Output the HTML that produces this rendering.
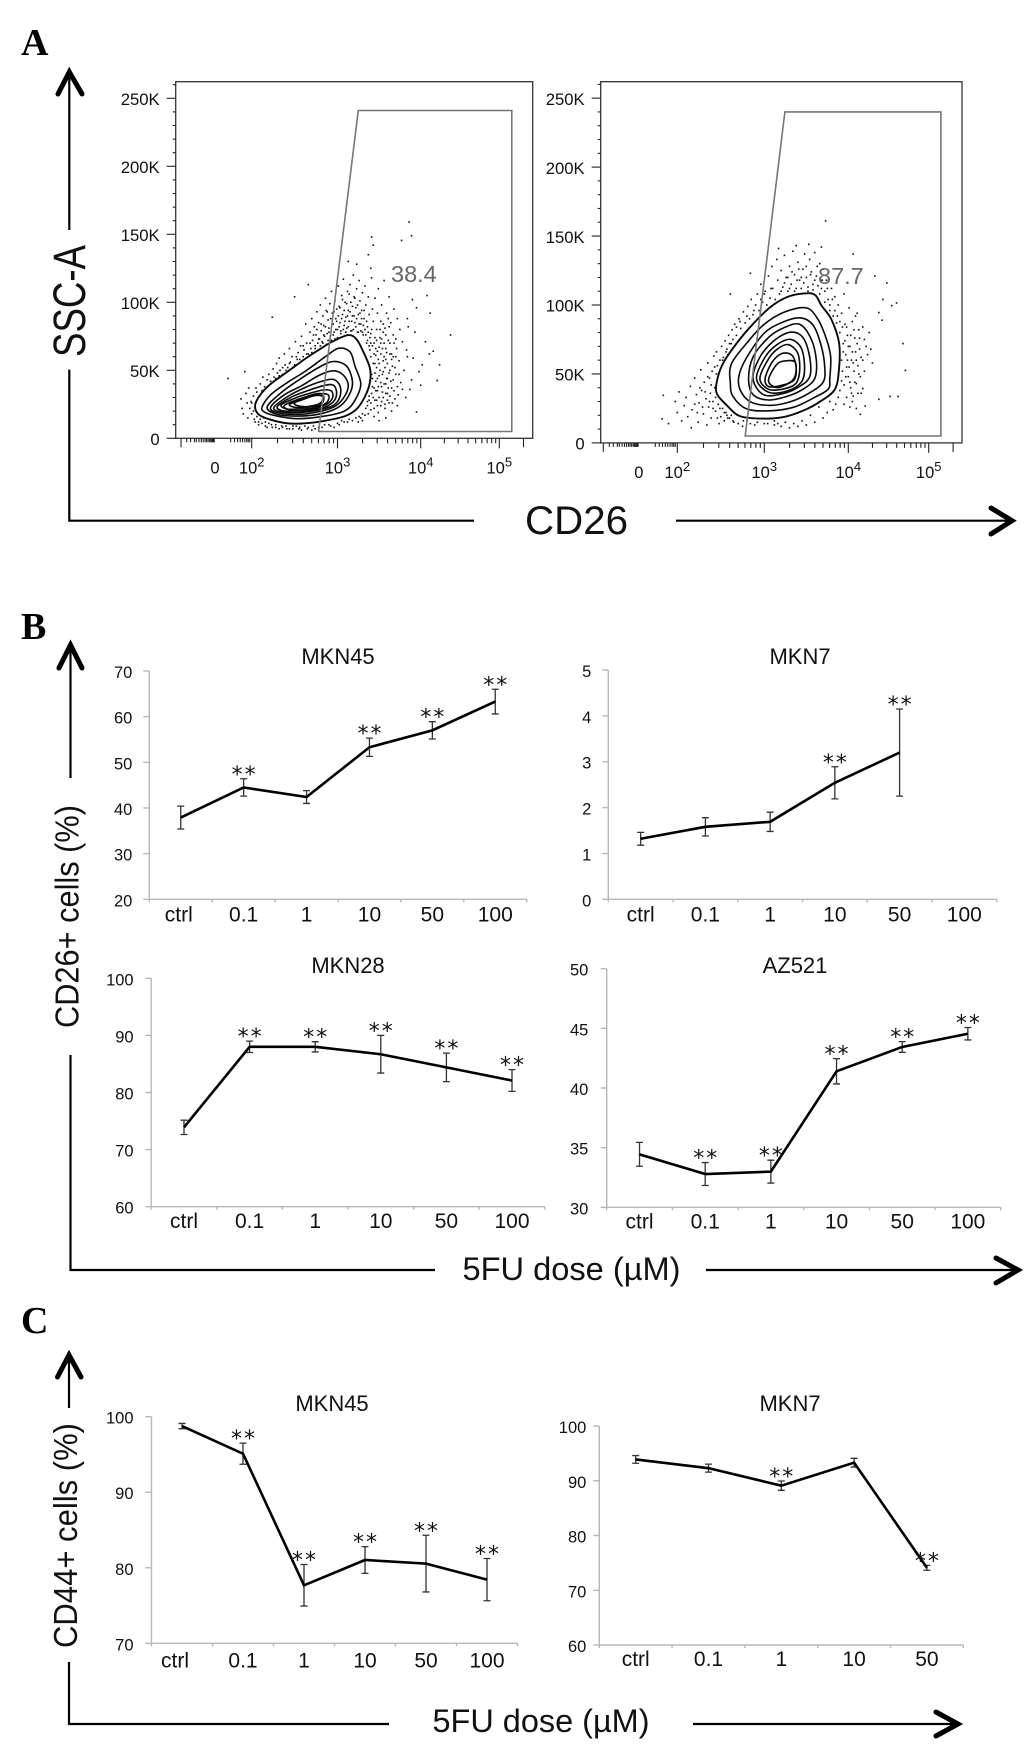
<!DOCTYPE html>
<html lang="en">
<head>
<meta charset="utf-8">
<title>CD26 and CD44 flow cytometry after 5FU dose</title>
<style>
html,body{margin:0;padding:0;background:#fff;width:1033px;height:1748px;overflow:hidden}
svg{display:block}
text{font-family:"Liberation Sans",sans-serif;fill:#111}
.serif{font-family:"Liberation Serif",serif;font-weight:bold;fill:#000}
</style>
</head>
<body>
<svg id="figure" xmlns="http://www.w3.org/2000/svg" width="1033" height="1748" viewBox="0 0 1033 1748">
  <rect width="1033" height="1748" fill="#fff"/>
  <text class="serif" x="21" y="55" font-size="38">A</text>
  <text class="serif" x="21" y="639" font-size="38">B</text>
  <text class="serif" x="21" y="1333" font-size="38">C</text>

  <g fill="none" stroke="#000" stroke-width="2.2">
    <path d="M69.3 72V230M69.3 369.6V520.7H474M676 520.7H1011"/>
    <path d="M58 94L69.3 72L82 94M991 508L1012 520.7L991 534" stroke-width="5" stroke-linecap="round" stroke-linejoin="miter"/>
  </g>
  <g fill="none" stroke="#000" stroke-width="2.2">
    <path d="M70.5 645V778M70.5 1055V1270H435M706 1270H1018"/>
    <path d="M59 668L70.5 645L82 668M996 1258L1018 1270L996 1283" stroke-width="5" stroke-linecap="round" stroke-linejoin="miter"/>
  </g>
  <g fill="none" stroke="#000" stroke-width="2.2">
    <path d="M69 1355V1408M69 1662V1724H389M693 1724H957"/>
    <path d="M57.5 1377L69 1355L81 1377M936 1712L958 1724L936 1736" stroke-width="5" stroke-linecap="round" stroke-linejoin="miter"/>
  </g>

  <text x="0" y="0" transform="translate(85 357) rotate(-90)" font-size="45" textLength="112" lengthAdjust="spacingAndGlyphs">SSC-A</text>
  <text x="525" y="534" font-size="40" textLength="103" lengthAdjust="spacingAndGlyphs">CD26</text>
  <text x="0" y="0" transform="translate(78.4 1028) rotate(-90)" font-size="33" textLength="223" lengthAdjust="spacingAndGlyphs">CD26+ cells (%)</text>
  <text x="462.5" y="1280" font-size="32" textLength="218" lengthAdjust="spacingAndGlyphs">5FU dose (µM)</text>
  <text x="0" y="0" transform="translate(77 1648) rotate(-90)" font-size="33" textLength="225" lengthAdjust="spacingAndGlyphs">CD44+ cells (%)</text>
  <text x="432.5" y="1732" font-size="32" textLength="217" lengthAdjust="spacingAndGlyphs">5FU dose (µM)</text>
</svg>
<script>
/* ---------- line chart data ---------- */
const doseLabels = ['ctrl','0.1','1','10','50','100'];
const doseLabelsShort = ['ctrl','0.1','1','10','50'];

const mkn45bTicks = [20,30,40,50,60,70];
const mkn45bValues = [37.9,44.5,42.4,53.3,57,63.3];
const mkn45bErrors = [2.5,1.9,1.4,2,1.9,2.7];
const mkn45bStars = [0,1,0,1,1,1];

const mkn7bTicks = [0,1,2,3,4,5];
const mkn7bValues = [1.32,1.58,1.69,2.54,3.2];
const mkn7bErrors = [0.14,0.2,0.21,0.35,0.95];
const mkn7bStars = [0,0,0,1,1];

const mkn28Ticks = [60,70,80,90,100];
const mkn28Values = [73.9,88,88,86.7,84.4,82.1];
const mkn28Errors = [1.25,1,0.9,3.3,2.5,1.9];
const mkn28Stars = [0,1,1,1,1,1];

const az521Ticks = [30,35,40,45,50];
const az521Values = [34.44,32.79,32.99,41.4,43.44,44.55];
const az521Errors = [1,0.96,0.96,1.06,0.45,0.52];
const az521Stars = [0,1,1,1,1,1];

const mkn45cTicks = [70,80,90,100];
const mkn45cValues = [98.76,95.1,77.68,81.03,80.55,78.43];
const mkn45cErrors = [0.35,1.4,2.75,1.77,3.75,2.8];
const mkn45cStars = [0,1,1,1,1,1];

const mkn7cTicks = [60,70,80,90,100];
const mkn7cValues = [93.9,92.3,89.1,93.3,74.1];
const mkn7cErrors = [0.7,0.73,0.85,0.8,0.45];
const mkn7cStars = [0,0,1,0,1];

/* ---------- flow cytometry data: [decade position, SSC in K] pairs ---------- */
const sscTicks = [0,50,100,150,200,250];
const sscMinor = [10,20,30,40,60,70,80,90,110,120,130,140,160,170,180,190,210,220,230,240,260];
const cd26Decades = [2,3,4,5];
const cd26LowTicks = [0.3,0.4,0.5,0.55,0.62,0.68,0.73,0.78,0.82,0.86,0.9,0.93,0.96,0.98,1,1.01,1.02,1.45,1.55,1.63,1.7,1.76,1.82,1.87,1.91,1.95];
const cd26DecadeMinor = [0.301,0.477,0.602,0.699,0.778,0.845,0.903,0.954];
const cd26LongTicks = [0.15,5.3];

const dotsLeft = [
1.38,44,1.82,49,2.24,89,2.50,104,2.66,113,3.23,128,3.41,148,3.43,142,3.77,145.5,3.86,159,3.89,149,3.37,135,3.40,125,3.13,130,
4.38,76,4.08,105,4.12,92,3.90,102,3.95,96,4.06,71,4.16,64,4.11,62,4.24,54,4.21,42.5,4.00,39,3.95,19.4,3.89,43,3.84,60,3.91,59,4.02,54,3.98,49,3.93,78,3.84,88,3.72,24,3.78,36,
1.72,29,1.75,22,1.78,18,1.85,33,1.88,26,1.9,15,1.92,37,1.95,22,1.98,27,2.0,18,2.02,31,2.03,14,2.05,37,2.06,34,2.08,12,2.1,40,2.12,35,2.13,45,2.15,38,2.16,9,2.18,43,2.2,47,2.22,42,2.23,10,2.25,51,2.26,45,2.28,8,2.29,55,2.3,48,2.32,59,2.33,50,2.35,9,2.36,47,2.38,62,2.39,54,2.41,7,2.42,52,2.44,66,2.45,56,2.47,60,2.48,9,2.5,54,2.51,71,2.53,58,2.54,63,2.56,8,2.57,68,2.58,75,2.6,60,2.61,65,2.63,84,2.64,70,2.65,7,2.66,62,2.68,78,2.69,66,2.7,88,2.71,72,2.72,9,2.73,82,2.74,68,2.75,76,2.76,93,2.77,70,2.78,85,2.79,73,2.8,98,2.81,79,2.82,71,2.83,90,2.84,83,2.85,75,2.86,103,2.87,94,2.88,77,2.89,87,2.9,81,2.91,99,2.92,76,2.93,108,2.94,92,2.95,84,2.96,78,2.97,101,2.98,88,2.99,95,3.0,80,3.01,112,3.02,97,3.03,85,3.04,79,3.05,105,3.06,91,3.07,117,3.08,83,3.09,100,3.1,89,3.11,81,3.12,108,3.13,94,3.14,86,3.15,113,3.16,100,3.17,79,3.18,90,3.19,120,3.2,104,3.21,85,3.22,96,3.23,110,3.24,78,3.25,91,3.26,116,3.27,101,3.28,84,3.29,94,3.3,107,3.31,76,3.32,88,3.33,112,3.34,98,3.35,70,3.36,82,3.37,104,3.38,91,3.39,65,3.4,77,3.41,118,3.42,95,3.43,86,3.44,70,3.45,103,3.46,61,3.47,80,3.48,92,3.49,110,3.5,55,3.51,74,3.52,86,3.53,98,3.54,66,3.55,49,3.56,116,3.57,81,3.58,58,3.59,92,3.6,44,3.61,72,3.62,104,3.63,62,3.64,85,3.65,37,3.66,53,3.67,76,3.68,95,3.7,47,3.71,66,3.72,88,3.73,32,3.74,57,3.75,80,3.76,41,3.78,71,3.8,50,3.82,30,3.83,65,3.85,82,3.87,36,
3.41,47,3.42,38,3.43,30,3.44,22,3.45,55,3.46,42,3.47,28,3.48,35,3.49,19,3.5,46,3.52,24,3.53,38,3.55,30,3.56,60,3.57,22,3.58,40,3.6,33,3.62,26,3.63,50,3.65,20,3.67,43,3.69,29,3.72,38,3.74,47,3.36,24,3.37,18,3.38,28,3.33,17,3.3,13,3.28,15,3.25,12,3.4,26,3.44,16,3.5,13,3.58,15,3.4,60,3.42,68,3.45,74,3.48,64,3.52,70,3.55,78,3.58,66,3.62,82,3.65,58,3.68,70,3.7,60,
2.55,7,2.62,9,2.7,6,2.78,8,2.85,10,2.92,9,3.0,11,3.05,13,3.12,12,
3.41,33,3.42,44,3.43,55,3.44,37,3.44,62,3.45,28,3.45,48,3.46,66,3.46,35,3.47,52,3.47,72,3.48,44,3.48,24,3.49,58,3.49,38,3.5,67,3.5,30,3.51,50,3.51,80,3.52,41,3.52,62,3.53,27,3.53,73,3.54,47,3.54,34,3.55,57,3.55,84,3.56,40,3.56,70,3.57,25,3.57,52,3.58,76,3.58,33,3.59,44,3.59,63,3.6,28,3.6,55,3.61,37,3.61,88,3.62,48,3.63,70,3.63,31,3.64,42,3.65,62,3.66,26,3.67,60,3.68,35,3.69,52,3.7,73,
3.4,70,3.41,80,3.39,74,3.38,68,3.37,78,3.36,72,3.35,86,3.34,76,3.33,80,3.32,94,3.31,83,3.3,78,3.29,88,3.28,79,3.27,92,3.26,84,3.25,78,3.24,98,3.23,88,3.22,82,3.21,103,3.2,90,3.19,80,3.18,97,3.17,86,3.16,79,3.15,93,3.14,106,3.13,82,3.12,90,3.11,99,3.1,78,3.09,86,3.08,94,3.07,80,3.06,102,3.05,88,3.04,77,3.03,96,3.02,82,3.01,90,3.0,74,2.99,86,2.98,80,2.97,73,2.96,93,2.95,76,2.94,84,2.93,72,2.92,88,2.91,71,2.9,78,2.89,72,2.88,93,2.87,69,2.86,82,2.85,67,2.84,76,2.83,70,2.82,65,2.81,84,2.8,68,2.79,64,2.78,73,2.77,62,2.76,80,2.75,60,2.74,66,2.73,58,2.72,76,2.71,57,2.7,63,2.69,55,2.68,70,2.67,54,2.66,58,2.65,52,2.64,62,2.63,50,2.62,56,2.61,51,2.6,68,2.59,48,2.58,52,2.57,46,2.56,58,2.55,45,2.54,50,2.53,43,2.52,60,2.51,44,2.5,48,2.49,42,2.48,52,2.47,41,2.46,46,2.45,39,2.44,55,2.43,40,2.42,44,2.41,38,2.4,50,2.39,37,2.38,42,2.37,36,2.36,52,2.35,35,2.34,40,2.33,34,2.32,46,2.31,33,2.3,38,2.29,32,2.28,44,2.27,31,2.26,36,2.25,30,2.24,41,2.23,29,2.22,35,2.21,28,2.2,38,2.19,27,2.18,33,2.17,26,2.16,36,2.15,25,2.14,30,2.13,24,2.12,33,2.11,22,2.1,26,
2.0,26,2.02,20,2.04,12,2.06,16,2.08,10,2.1,14,2.12,11,2.14,15,2.16,12,2.18,8,2.2,11,2.24,8,2.28,10,2.32,7,2.36,8,2.4,9,2.44,7,2.48,7,2.52,9,2.58,6,2.66,8,2.74,7,2.82,8,2.9,10,2.96,8,3.02,10,3.08,12,3.14,14,3.18,13,3.22,15,3.26,16,3.3,18,3.34,22,3.36,27,3.38,31,3.4,21
];
const dotsRight = [
1.65,34.5,1.62,17.4,1.78,14,2.16,11,3.73,161,4.06,137,3.38,143,3.53,144,3.68,142,3.17,141,2.84,123,2.61,108,4.33,121,4.48,116,4.43,104,4.6,101.5,4.54,99.5,4.42,89,4.38,94.5,4.68,72,4.71,52.6,4.62,33.7,4.52,33.7,4.38,31.6,4.21,26.7,4.15,20.7,4.18,39.4,
1.95,30,2.0,22,2.02,37,2.05,16,2.08,27,2.1,33,2.12,19,2.15,41,2.17,24,2.2,47,2.22,35,2.24,15,2.25,29,2.27,53,2.28,38,2.3,21,2.31,44,2.33,32,2.34,13,2.35,58,2.36,26,2.37,47,2.38,36,2.39,18,2.4,52,2.41,30,2.42,63,2.43,40,2.44,23,2.45,66,2.46,56,2.47,28,2.48,14,2.49,60,2.5,19,2.51,70,2.52,25,2.53,62,2.54,16,2.55,74,2.56,22,2.57,68,2.58,18,2.59,78,2.6,72,2.62,20,2.63,82,2.64,75,2.65,15,2.66,86,2.68,78,2.7,14,2.71,90,2.73,83,2.75,12,2.76,95,2.78,87,2.8,16,2.81,99,2.83,90,2.85,104,2.87,93,2.89,13,2.9,100,2.92,108,2.94,96,2.96,115,2.98,102,3.0,14,3.01,110,3.03,100,3.05,121,3.07,105,3.09,128,3.1,112,3.12,13,3.13,104,3.15,133,3.16,118,3.18,108,3.2,125,3.22,113,3.24,136,3.25,15,3.26,120,3.28,110,3.3,128,3.32,115,3.34,139,3.36,122,3.38,112,3.4,131,3.42,118,3.44,112,3.46,126,3.48,137,3.5,120,3.52,113,3.54,133,3.56,124,3.58,115,3.6,138,3.62,121,3.64,114,3.66,130,3.68,112,3.7,126,3.72,110,3.74,118,3.76,104,3.78,96,3.8,112,3.82,92,3.84,106,3.86,87,3.88,100,3.9,80,3.92,94,3.94,72,3.95,108,3.96,86,3.97,64,3.98,55,3.99,78,4.0,48,4.01,98,4.02,70,4.03,40,4.04,60,4.05,88,4.06,34,4.07,52,4.08,76,4.09,66,4.1,43,4.11,94,4.12,56,4.13,82,4.14,68,4.15,48,4.16,36,4.18,60,4.2,75,4.22,70,4.24,64,4.26,80,4.28,68,4.3,58,
3.92,45,3.9,38,3.88,33,3.85,28,3.82,24,3.78,30,3.75,22,3.7,18,3.65,26,3.6,15,3.55,20,3.5,13,3.45,16,3.4,12,3.35,14,3.3,11,3.25,15,3.2,12,3.95,28,3.98,33,4.02,26,4.05,30,4.1,25,
3.92,60,3.93,52,3.94,66,3.95,42,3.96,74,3.97,48,3.98,84,3.99,60,4.0,70,4.01,55,4.02,44,4.03,78,4.04,36,4.05,66,4.06,58,4.07,82,4.08,44,4.09,92,4.1,60,4.11,72,4.12,36,4.13,50,4.14,76,4.16,62,4.18,84,4.2,52,
3.2,110,3.24,116,3.28,120,3.3,112,3.33,124,3.36,110,3.39,118,3.41,126,3.44,120,3.47,116,3.5,128,3.52,110,3.55,122,3.58,111,3.6,118,3.63,128,3.66,108,3.69,118,3.72,102,3.75,112,3.78,100,3.81,104,3.84,96,3.87,92,3.9,88,3.93,84,
2.2,28,2.23,22,2.26,40,2.29,26,2.32,37,2.35,48,2.37,30,2.39,42,2.41,25,2.43,55,2.44,33,2.45,50,2.46,18,2.47,44,2.48,36,2.49,25,2.5,52,2.51,40,2.52,60,2.53,32,2.54,22,2.55,48,2.56,66,2.57,20,2.58,64,2.6,18,2.62,72,2.64,16,2.68,84,2.72,88,2.76,16,2.8,92,2.84,14,2.88,96,2.92,15,2.96,104,3.0,108,3.04,14,3.08,112,3.12,16,3.16,14
];

const contoursLeft = [
[2.04,24.2,2.10,32,2.22,39.9,2.42,49.1,2.62,58.3,2.81,66.2,2.95,71.4,3.13,75.9,3.23,72.7,3.31,63.6,3.39,51.7,3.39,41.2,3.33,30.7,3.23,21.5,3.09,16.3,2.85,12.9,2.62,11,2.42,11,2.22,13.7,2.08,17.6],
[2.12,22.8,2.22,32,2.42,41.2,2.62,49.1,2.85,59.6,3.01,66.2,3.15,63.6,3.21,53,3.28,39.9,3.21,28,3.09,20.2,2.85,16.3,2.54,14.4,2.30,16.3,2.16,18.9],
[2.18,22.8,2.34,33.4,2.54,42.5,2.77,51.7,2.95,56.5,3.11,53,3.18,41.2,3.13,30.7,3.01,22.8,2.81,18.1,2.54,16.3,2.30,17.6],
[2.22,22.8,2.38,32,2.58,38.6,2.79,46.5,2.95,49.6,3.07,46.5,3.13,38.6,3.07,29.4,2.95,22.8,2.73,18.9,2.50,17.6,2.30,18.9],
[2.26,22.8,2.42,30.7,2.62,37.3,2.81,41.8,2.95,43.3,3.03,38.6,3.03,30.7,2.95,24.2,2.73,20.2,2.50,18.9,2.32,19.7],
[2.30,23.4,2.46,30.2,2.64,34.7,2.83,38.6,2.95,39.1,2.99,33.4,2.95,26.8,2.79,21.5,2.54,20.2,2.36,20.2],
[2.34,24.2,2.50,29.4,2.65,32.6,2.83,35.5,2.93,34.7,2.94,29.4,2.85,24.2,2.65,20.7,2.46,20.7],
[2.38,24.2,2.54,28.6,2.69,31.3,2.83,32.8,2.90,31.3,2.87,26,2.73,22.3,2.54,21.5,2.42,21.5],
[2.44,25,2.58,28.1,2.71,31,2.81,31.3,2.84,28.6,2.79,24.2,2.64,22.8,2.50,22.8],
[2.50,26,2.62,30.2,2.79,33,2.84,30.2,2.79,25.5,2.65,23.4,2.54,23.9]
];
const contoursRight = [
[2.45,42.7,2.51,55.7,2.64,68.7,2.84,84.2,3.07,98.4,3.27,105.7,3.46,108.3,3.60,107.5,3.68,99.7,3.80,89.4,3.89,72.5,3.89,54.4,3.84,38.9,3.66,29.8,3.46,23.3,3.23,18.7,2.99,17.6,2.72,19.4,2.57,27.2,2.46,35],
[2.61,42.7,2.62,57,2.80,72.5,2.99,85.5,3.23,94.6,3.50,97.9,3.64,89.4,3.74,75.1,3.79,62.2,3.78,46.6,3.76,38.9,3.58,32.4,3.35,25.9,3.07,23.3,2.80,24.6,2.64,33.7],
[2.71,49.2,2.80,62.2,2.99,79,3.19,86.8,3.42,90.7,3.58,85.5,3.68,69.9,3.72,54.4,3.70,44,3.54,36.3,3.31,29.8,3.07,27.2,2.84,29.8,2.72,38.9],
[2.82,46.6,2.87,62.2,3.05,76.4,3.23,83.4,3.42,86,3.56,75.1,3.62,59.6,3.60,46.6,3.46,38.9,3.27,33.7,3.05,31.1,2.87,35],
[2.87,46.6,2.95,62.2,3.11,73.8,3.31,80.3,3.46,76.4,3.54,62.2,3.54,47.9,3.40,40.2,3.21,35.5,2.99,35],
[2.91,46.6,3.01,62.2,3.15,71.2,3.31,75.1,3.44,68.7,3.48,54.4,3.44,44,3.27,37.6,3.05,36.8],
[2.95,46.6,3.05,60.9,3.17,68.7,3.29,71.2,3.40,64.8,3.42,51.8,3.37,42.7,3.21,38.9,3.05,38.9],
[3.01,46.6,3.09,58.3,3.21,64.8,3.33,63.5,3.38,54.4,3.35,45.3,3.19,41.5,3.05,40.9],
[3.05,45.3,3.15,57,3.27,59.6,3.37,58.3,3.37,49.2,3.31,44,3.15,40.2]
];
const gateLeft = [3.25,241, 5.155,241, 5.155,5, 2.78,5];
const gateRight = [3.245,240, 5.15,240, 5.15,5, 2.78,5];

/* ---------- drawing ---------- */
const NS = 'http://www.w3.org/2000/svg';
const root = document.getElementById('figure');
function make(tag, attrs, parent, text) {
  const el = document.createElementNS(NS, tag);
  for (const k in attrs) el.setAttribute(k, attrs[k]);
  if (text !== undefined) el.textContent = text;
  parent.appendChild(el);
  return el;
}

function drawFlow(p) {
  const g = make('g', {}, root);
  
  
  const xs = u => {
    const k = p.xKnots;
    if (u <= 1) return k[0] + (u - 1) * (k[1] - k[0]);
    const i = Math.min(Math.floor(u) - 1, k.length - 2);
    return k[i] + (u - 1 - i) * (k[i + 1] - k[i]);
  };
  const ys = v => p.y0 - v * p.yPerK;

  for (let i = 0; i < p.dots.length; i += 2) {
    const dot = make('rect', {x: xs(p.dots[i]) - .8, y: ys(p.dots[i + 1]) - .8, width: 1.6, height: 1.6, fill: '#111'}, g);
    
    
  }

  p.contours.forEach((c, ci) => {
    const pts = [];
    for (let i = 0; i < c.length; i += 2) pts.push([xs(c[i]), ys(c[i + 1])]);
    const n = pts.length;
    let d = 'M' + pts[0][0].toFixed(1) + ' ' + pts[0][1].toFixed(1);
    for (let i = 0; i < n; i++) {
      const a = pts[(i - 1 + n) % n], b = pts[i], e = pts[(i + 1) % n], f = pts[(i + 2) % n];
      d += 'C' + (b[0] + (e[0] - a[0]) / 6).toFixed(1) + ' ' + (b[1] + (e[1] - a[1]) / 6).toFixed(1) + ' ' +
           (e[0] - (f[0] - b[0]) / 6).toFixed(1) + ' ' + (e[1] - (f[1] - b[1]) / 6).toFixed(1) + ' ' +
           e[0].toFixed(1) + ' ' + e[1].toFixed(1);
    }
    const path = make('path', {d: d + 'Z', fill: ci === 0 ? '#fff' : 'none', stroke: '#0a0a0a', 'stroke-width': ci === 0 ? 1.9 : 1.6}, g);
    
    
  });

  const gp = [];
  for (let i = 0; i < p.gate.length; i += 2) gp.push(xs(p.gate[i]).toFixed(1) + ',' + ys(p.gate[i + 1]).toFixed(1));
  const gate = make('polygon', {points: gp.join(' '), fill: 'none', stroke: '#777', 'stroke-width': 1.6}, g);
  
  

  const frame = make('rect', {x: p.left, y: p.top, width: p.right - p.left, height: p.y0 - p.top, fill: 'none', stroke: '#333', 'stroke-width': 1.3}, g);
  
  

  const axis = make('g', {stroke: '#222', 'stroke-width': 1.1}, g);
  
  
  sscMinor.forEach(v => make('line', {x1: p.left - 3, x2: p.left, y1: ys(v), y2: ys(v)}, axis));
  sscTicks.forEach(v => make('line', {x1: p.left - 9, x2: p.left, y1: ys(v), y2: ys(v)}, axis));
  cd26LowTicks.forEach(u => make('line', {x1: xs(u), x2: xs(u), y1: p.y0, y2: p.y0 + 4}, axis));
  cd26LongTicks.forEach(u => make('line', {x1: xs(u), x2: xs(u), y1: p.y0, y2: p.y0 + 9}, axis));
  cd26Decades.forEach(d => {
    make('line', {x1: xs(d), x2: xs(d), y1: p.y0, y2: p.y0 + 10}, axis);
    if (d < 5) cd26DecadeMinor.forEach(m => make('line', {x1: xs(d + m), x2: xs(d + m), y1: p.y0, y2: p.y0 + 5}, axis));
  });

  sscTicks.forEach(v => {
    const t = make('text', {x: p.left - 16, y: ys(v) + 6.7, 'text-anchor': 'end', 'font-size': 16.7}, g, v === 0 ? '0' : v + 'K');
    
    
  });
  const zero = make('text', {x: xs(1) + 1.5, y: p.y0 + p.labelDy, 'text-anchor': 'middle', 'font-size': 16.5}, g, '0');
  
  
  cd26Decades.forEach(d => {
    const t = make('text', {x: xs(d), y: p.y0 + p.labelDy, 'text-anchor': 'middle', 'font-size': 16.5}, g);
    make('tspan', {}, t, '10');
    make('tspan', {dy: -7, 'font-size': 13}, t, String(d));
    
    
  });
  const pct = make('text', {x: p.pctX, y: p.pctY, 'font-size': 23.5, style: 'fill:#666'}, g, p.pct);
  
  
}

function drawLine(p) {
  const g = make('g', {}, root);
  
  
  const band = (p.right - p.left) / p.cats.length;
  const xs = i => p.left + (i + .5) * band;
  const lo = p.ticks[0], hi = p.ticks[p.ticks.length - 1];
  const ys = v => p.bottom - (v - lo) / (hi - lo) * (p.bottom - p.top);

  const axis = make('g', {stroke: '#b8b8b8', 'stroke-width': 1.4, fill: 'none'}, g);
  
  
  make('line', {x1: p.left, x2: p.left, y1: p.top, y2: p.bottom}, axis);
  make('line', {x1: p.left, x2: p.right, y1: p.bottom, y2: p.bottom}, axis);
  p.ticks.forEach(v => make('line', {x1: p.left - 6, x2: p.left, y1: ys(v), y2: ys(v)}, axis));
  p.cats.forEach((c, i) => make('line', {x1: p.left + i * band, x2: p.left + i * band, y1: p.bottom, y2: p.bottom + 3}, axis));
  make('line', {x1: p.right, x2: p.right, y1: p.bottom, y2: p.bottom + 3}, axis);

  p.ticks.forEach(v => {
    const t = make('text', {x: p.left - p.tickGap, y: ys(v) + 7, 'text-anchor': 'end', 'font-size': 16.5}, g, String(v));
    
    
  });
  p.cats.forEach((c, i) => {
    const t = make('text', {x: xs(i) + (i === 0 ? (p.ctrlShift || 0) : 0), y: p.bottom + p.labelDy, 'text-anchor': 'middle', 'font-size': 21}, g, c);
    
    
  });
  const title = make('text', {x: p.titleX, y: p.titleY, 'text-anchor': 'middle', 'font-size': 22}, g, p.title);
  
  

  p.values.forEach((v, i) => {
    const e = p.errors[i], x = xs(i);
    const bar = make('path', {
      d: 'M' + x + ' ' + ys(v + e) + 'V' + ys(v - e) + 'M' + (x - 3.5) + ' ' + ys(v + e) + 'h7M' + (x - 3.5) + ' ' + ys(v - e) + 'h7',
      fill: 'none', stroke: '#333', 'stroke-width': 1.3}, g);
    
    
  });
  const line = make('polyline', {
    points: p.values.map((v, i) => xs(i) + ',' + ys(v)).join(' '),
    fill: 'none', stroke: '#000', 'stroke-width': 2.6, 'stroke-linejoin': 'miter'}, g);
  
  

  p.values.forEach((v, i) => {
    if (!p.stars[i]) return;
    const s = make('text', {x: xs(i) + 1, y: ys(v + p.errors[i]) + 3, 'text-anchor': 'middle', 'font-size': 22, 'letter-spacing': 2,
      style: 'font-family:"DejaVu Sans",sans-serif;fill:#111'}, g, '**');
    
    
  });
}

drawFlow({name:'flow-plot-38-4', dots:dotsLeft, contours:contoursLeft, gate:gateLeft, pct:'38.4', pctX:391, pctY:282,
  left:175.7, right:532.7, top:81.7, y0:438.3, yPerK:1.36, labelDy:35, xKnots:[213.5,251.7,337.5,420.7,499.3,580]});
drawFlow({name:'flow-plot-87-7', dots:dotsRight, contours:contoursRight, gate:gateRight, pct:'87.7', pctX:818, pctY:284,
  left:600.7, right:962, top:81.7, y0:442.9, yPerK:1.379, labelDy:35, xKnots:[637.3,677.3,764.3,848.3,928.7,1010]});

drawLine({name:'chart-b-mkn45', title:'MKN45', titleX:338, titleY:664, cats:doseLabels, ticks:mkn45bTicks, values:mkn45bValues, errors:mkn45bErrors, stars:mkn45bStars,
  left:149.3, right:526.7, top:671, bottom:899.3, tickGap:17, labelDy:22, ctrlShift:-2});
drawLine({name:'chart-b-mkn7', title:'MKN7', titleX:800, titleY:664, cats:doseLabels, ticks:mkn7bTicks, values:mkn7bValues, errors:mkn7bErrors, stars:mkn7bStars,
  left:608.3, right:996.7, top:670, bottom:899.3, tickGap:17, labelDy:22});
drawLine({name:'chart-b-mkn28', title:'MKN28', titleX:348, titleY:973, cats:doseLabels, ticks:mkn28Ticks, values:mkn28Values, errors:mkn28Errors, stars:mkn28Stars,
  left:151.2, right:544.8, top:978.3, bottom:1206.7, tickGap:17.6, labelDy:21.5});
drawLine({name:'chart-b-az521', title:'AZ521', titleX:795, titleY:973, cats:doseLabels, ticks:az521Ticks, values:az521Values, errors:az521Errors, stars:az521Stars,
  left:606.7, right:1000.7, top:968.7, bottom:1207.3, tickGap:18.4, labelDy:21});
drawLine({name:'chart-c-mkn45', title:'MKN45', titleX:332, titleY:1411, cats:doseLabels, ticks:mkn45cTicks, values:mkn45cValues, errors:mkn45cErrors, stars:mkn45cStars,
  left:151.5, right:517.5, top:1416.7, bottom:1643.3, tickGap:18, labelDy:24, ctrlShift:-7});
drawLine({name:'chart-c-mkn7', title:'MKN7', titleX:790, titleY:1411, cats:doseLabelsShort, ticks:mkn7cTicks, values:mkn7cValues, errors:mkn7cErrors, stars:mkn7cStars,
  left:599.3, right:963.3, top:1426, bottom:1645, tickGap:13, labelDy:21});
</script>
</body>
</html>
